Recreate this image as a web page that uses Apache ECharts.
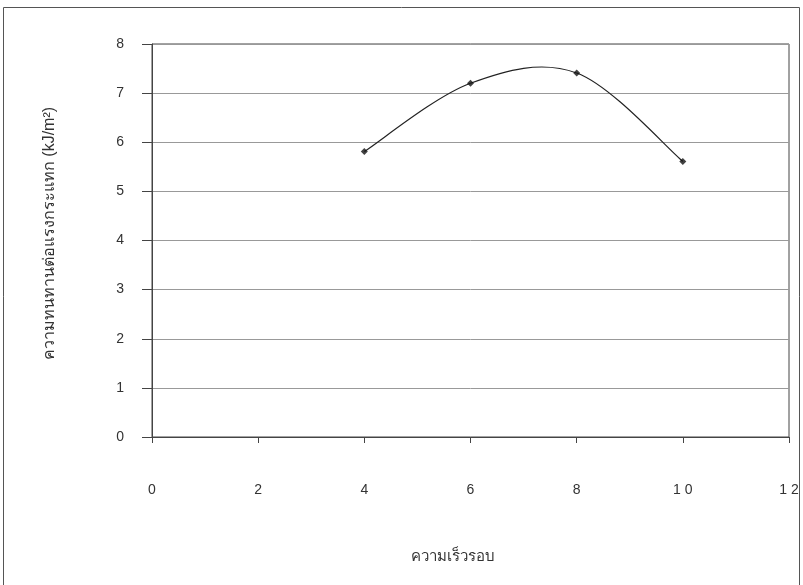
<!DOCTYPE html>
<html>
<head>
<meta charset="utf-8">
<script src="https://cdn.jsdelivr.net/npm/echarts@6/dist/echarts.min.js"></script>
<style>
  html, body { margin: 0; padding: 0; background: #fff; }
  #chart { width: 803px; height: 585px; }
</style>
</head>
<body>
<div id="chart"></div>
<script>
// Rotation speed vs. impact strength
const speeds = [4, 6, 8, 10];
const impactStrength = [5.81, 7.2, 7.41, 5.61];
const xTicks = [0, 2, 4, 6, 8, 10, 12];
const yTicks = [0, 1, 2, 3, 4, 5, 6, 7, 8];

const xTitle = 'ความเร็วรอบ';
const yTitle = 'ความทนทานต่อแรงกระแทก (kJ/m²)';

const chart = echarts.init(document.getElementById('chart'), null, { renderer: 'canvas' });

const font = '"Liberation Sans", Arial, sans-serif';
const points = speeds.map((s, i) => [s, impactStrength[i]]);

// Smoothed curve through the measured points (cardinal spline, tension 1/6),
// one cubic Bezier segment per pair of neighbouring points.
function renderSegment(params, api) {
  const i = params.dataIndex;
  if (i >= points.length - 1) return null;
  const c = points.map(p => api.coord(p));
  const p0 = c[Math.max(i - 1, 0)];
  const p1 = c[i];
  const p2 = c[i + 1];
  const p3 = c[Math.min(i + 2, c.length - 1)];
  const k = 1 / 6;
  const cp1 = [p1[0] + (p2[0] - p0[0]) * k, p1[1] + (p2[1] - p0[1]) * k];
  const cp2 = [p2[0] - (p3[0] - p1[0]) * k, p2[1] - (p3[1] - p1[1]) * k];
  return {
    type: 'bezierCurve',
    shape: {
      x1: p1[0], y1: p1[1], x2: p2[0], y2: p2[1],
      cpx1: cp1[0], cpy1: cp1[1], cpx2: cp2[0], cpy2: cp2[1]
    },
    style: { stroke: '#222', lineWidth: 1.2, fill: 'none' }
  };
}

chart.setOption({
  animation: false,
  backgroundColor: '#ffffff',
  graphic: [{
    type: 'rect',
    shape: { x: 3.5, y: 7.5, width: 796, height: 580 },
    style: { fill: 'none', stroke: '#555', lineWidth: 1 },
    silent: true
  }],
  grid: {
    left: 152, right: 14, top: 44, bottom: 148,
    show: true, borderColor: '#444', borderWidth: 1, backgroundColor: 'transparent'
  },
  xAxis: {
    type: 'value',
    min: xTicks[0], max: xTicks[xTicks.length - 1], interval: 2,
    name: xTitle, nameLocation: 'middle', nameGap: 112,
    nameTextStyle: { fontSize: 15, color: '#333', fontFamily: font, padding: [0, 36, 0, 0] },
    axisLine: { show: true, lineStyle: { color: '#444', width: 1 } },
    axisTick: { show: true, length: 6, lineStyle: { color: '#444' } },
    splitLine: { show: false },
    axisLabel: {
      margin: 46, fontSize: 14, color: '#333', fontFamily: font,
      formatter: v => String(v).split('').join(' ')
    }
  },
  yAxis: {
    type: 'value',
    min: yTicks[0], max: yTicks[yTicks.length - 1], interval: 1,
    name: yTitle, nameLocation: 'middle', nameGap: 94,
    nameTextStyle: { fontSize: 16, color: '#333', fontFamily: font, padding: [0, 0, 0, 14] },
    axisLine: { show: true, lineStyle: { color: '#444', width: 1 } },
    axisTick: { show: true, length: 10, lineStyle: { color: '#444' } },
    splitLine: { show: true, lineStyle: { color: '#999', width: 1 } },
    axisLabel: { margin: 28, fontSize: 14, color: '#333', fontFamily: font }
  },
  series: [{
    type: 'custom',
    data: points,
    renderItem: renderSegment,
    silent: true,
    z: 2
  }, {
    type: 'scatter',
    data: points,
    symbol: 'diamond',
    symbolSize: 7,
    itemStyle: { color: '#111' },
    z: 3
  }]
});
</script>
</body>
</html>
